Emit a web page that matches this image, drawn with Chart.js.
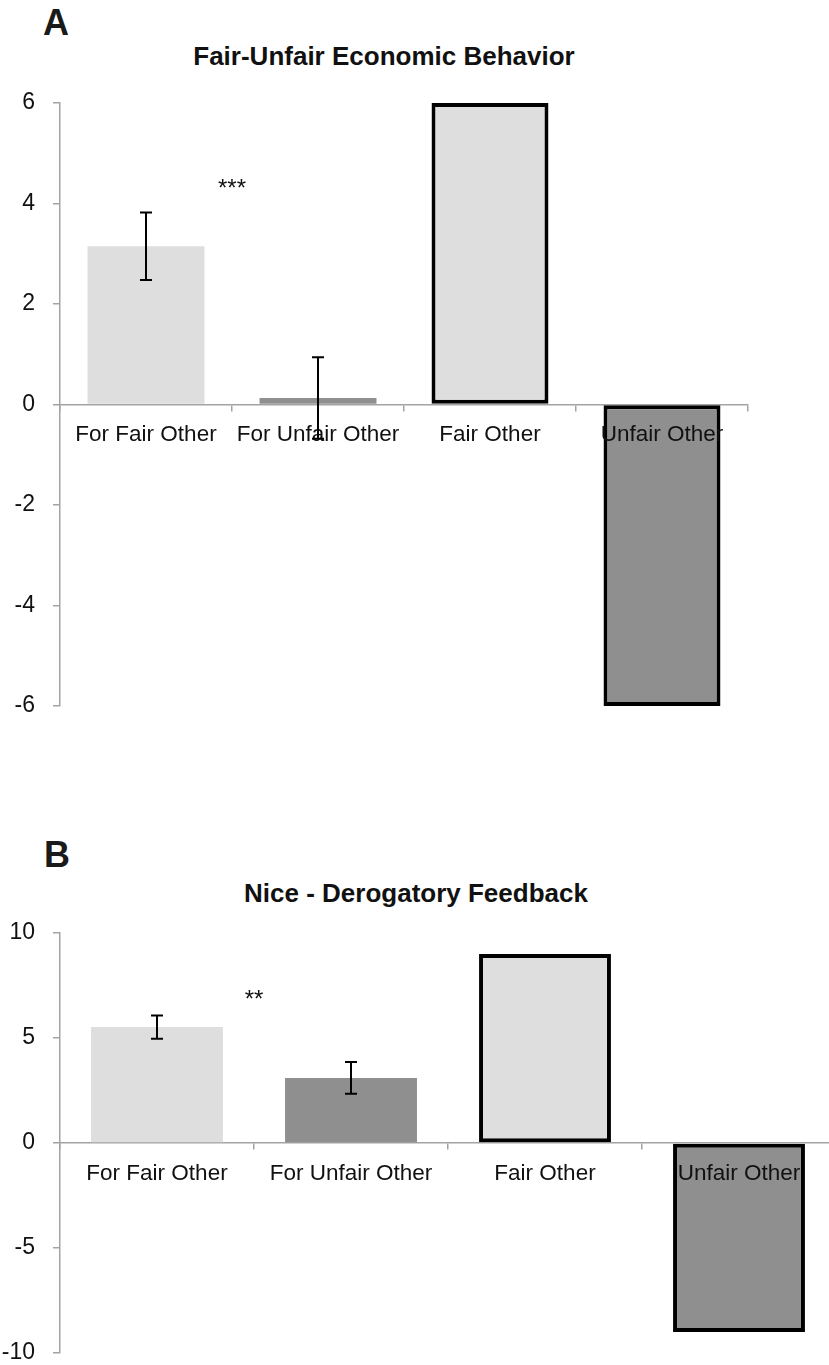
<!DOCTYPE html>
<html>
<head>
<meta charset="utf-8">
<script src="https://cdn.jsdelivr.net/npm/chart.js@4.4.1/dist/chart.umd.min.js"></script>
<style>
  html, body { margin: 0; padding: 0; background: #fff; }
  body { width: 829px; height: 1365px; overflow: hidden; position: relative;
         font-family: "Liberation Sans", Arial, sans-serif; }
  .panel { position: absolute; font-weight: bold; font-size: 36px; line-height: 36px; color: #1a1a1a; }
  .title { position: absolute; left: 0; text-align: center; font-weight: bold;
           font-size: 26px; line-height: 26px; color: #111; white-space: nowrap; }
  canvas { position: absolute; left: 0; }
</style>
</head>
<body>
<div class="panel" style="left:43px; top:5px;">A</div>
<div class="title" style="top:43px; width:768px;">Fair-Unfair Economic Behavior</div>
<canvas id="chartA" width="829" height="760" style="top:0;"></canvas>

<div class="panel" style="left:44px; top:837px;">B</div>
<div class="title" style="top:880px; width:832px;">Nice - Derogatory Feedback</div>
<canvas id="chartB" width="840" height="585" style="top:780px;"></canvas>

<script>
// Categories shared by both panels
const categories = ['For Fair Other', 'For Unfair Other', 'Fair Other', 'Unfair Other'];

// Panel A: fair-unfair economic behavior (means, SEM, axis range)
const econValues = [3.15, 0.13, 6, -6];
const econErrors = [0.67, 0.81, null, null];
const econAxis = [-6, 6, 2];           // min, max, step
const econSig = ['***', 4.4];          // marker text, height in data units

// Panel B: nice - derogatory feedback
const feedbackValues = [5.52, 3.1, 9, -9];
const feedbackErrors = [0.55, 0.76, null, null];
const feedbackAxis = [-10, 10, 5];
const feedbackSig = ['**', 7.1];

const LIGHT = '#dedede';
const DARK = '#8f8f8f';
const AXIS = '#a3a3a3';
const FONT = '"Liberation Sans", Arial, sans-serif';

// Draws SEM whiskers and the significance marker between the first two bars
const errorBarPlugin = {
  id: 'errorBars',
  afterDraw(chart, args, opts) {
    const { ctx } = chart;
    const x = chart.scales.x, y = chart.scales.y;
    const vals = chart.data.datasets[0].data;
    const errs = opts.errors || [];
    ctx.save();
    ctx.strokeStyle = '#000';
    ctx.lineWidth = 2;
    errs.forEach((e, i) => {
      if (e == null) return;
      const cx = x.getPixelForValue(i);
      const yt = y.getPixelForValue(vals[i] + e);
      const yb = y.getPixelForValue(vals[i] - e);
      ctx.beginPath();
      ctx.moveTo(cx, yt); ctx.lineTo(cx, yb);
      ctx.moveTo(cx - 6, yt); ctx.lineTo(cx + 6, yt);
      ctx.moveTo(cx - 6, yb); ctx.lineTo(cx + 6, yb);
      ctx.stroke();
    });
    if (opts.sig) {
      const sx = (x.getPixelForValue(0) + x.getPixelForValue(1)) / 2;
      const sy = y.getPixelForValue(opts.sig[1]);
      ctx.fillStyle = '#111';
      ctx.font = '24px ' + FONT;
      ctx.textAlign = 'center';
      ctx.textBaseline = 'alphabetic';
      ctx.fillText(opts.sig[0], sx, sy + 13);
    }
    ctx.restore();
  }
};

function makeChart(id, values, errors, sig, axis, pad) {
  const [min, max, step] = axis;
  return new Chart(document.getElementById(id), {
    type: 'bar',
    data: {
      labels: categories,
      datasets: [{
        data: values,
        backgroundColor: [LIGHT, DARK, LIGHT, DARK],
        borderColor: '#000',
        borderWidth: [0, 0, 4, 4],
        borderSkipped: false,
        barPercentage: 0.68,
        categoryPercentage: 1
      }]
    },
    options: {
      responsive: false,
      animation: false,
      devicePixelRatio: 1,
      layout: { padding: pad },
      plugins: {
        legend: { display: false },
        tooltip: { enabled: false },
        errorBars: { errors: errors, sig: sig }
      },
      scales: {
        x: {
          position: { y: 0 },
          offset: true,
          grid: { display: true, drawOnChartArea: false, drawTicks: true, tickLength: 6,
                  color: AXIS, lineWidth: 1.5, offset: true },
          border: { color: AXIS, width: 1.5 },
          ticks: { color: '#111', font: { family: FONT, size: 22.5 }, padding: 11,
                   maxRotation: 0, minRotation: 0, autoSkip: false, z: 1 },
          afterFit(s) { s.height = 0; }
        },
        y: {
          min: min, max: max,
          ticks: { stepSize: step, color: '#111', font: { family: FONT, size: 23 }, padding: 18 },
          grid: { drawOnChartArea: false, drawTicks: true, tickLength: 7, color: AXIS, lineWidth: 1.5 },
          border: { color: AXIS, width: 1.5 },
          afterFit(s) { s.width = 60; s.paddingTop = 0; s.paddingBottom = 0; }
        }
      }
    },
    plugins: [errorBarPlugin]
  });
}

makeChart('chartA', econValues, econErrors, econSig, econAxis,
          { top: 103, right: 81, bottom: 54, left: 0 });
makeChart('chartB', feedbackValues, feedbackErrors, feedbackSig, feedbackAxis,
          { top: 153, right: 4, bottom: 12, left: 0 });
</script>
</body>
</html>
